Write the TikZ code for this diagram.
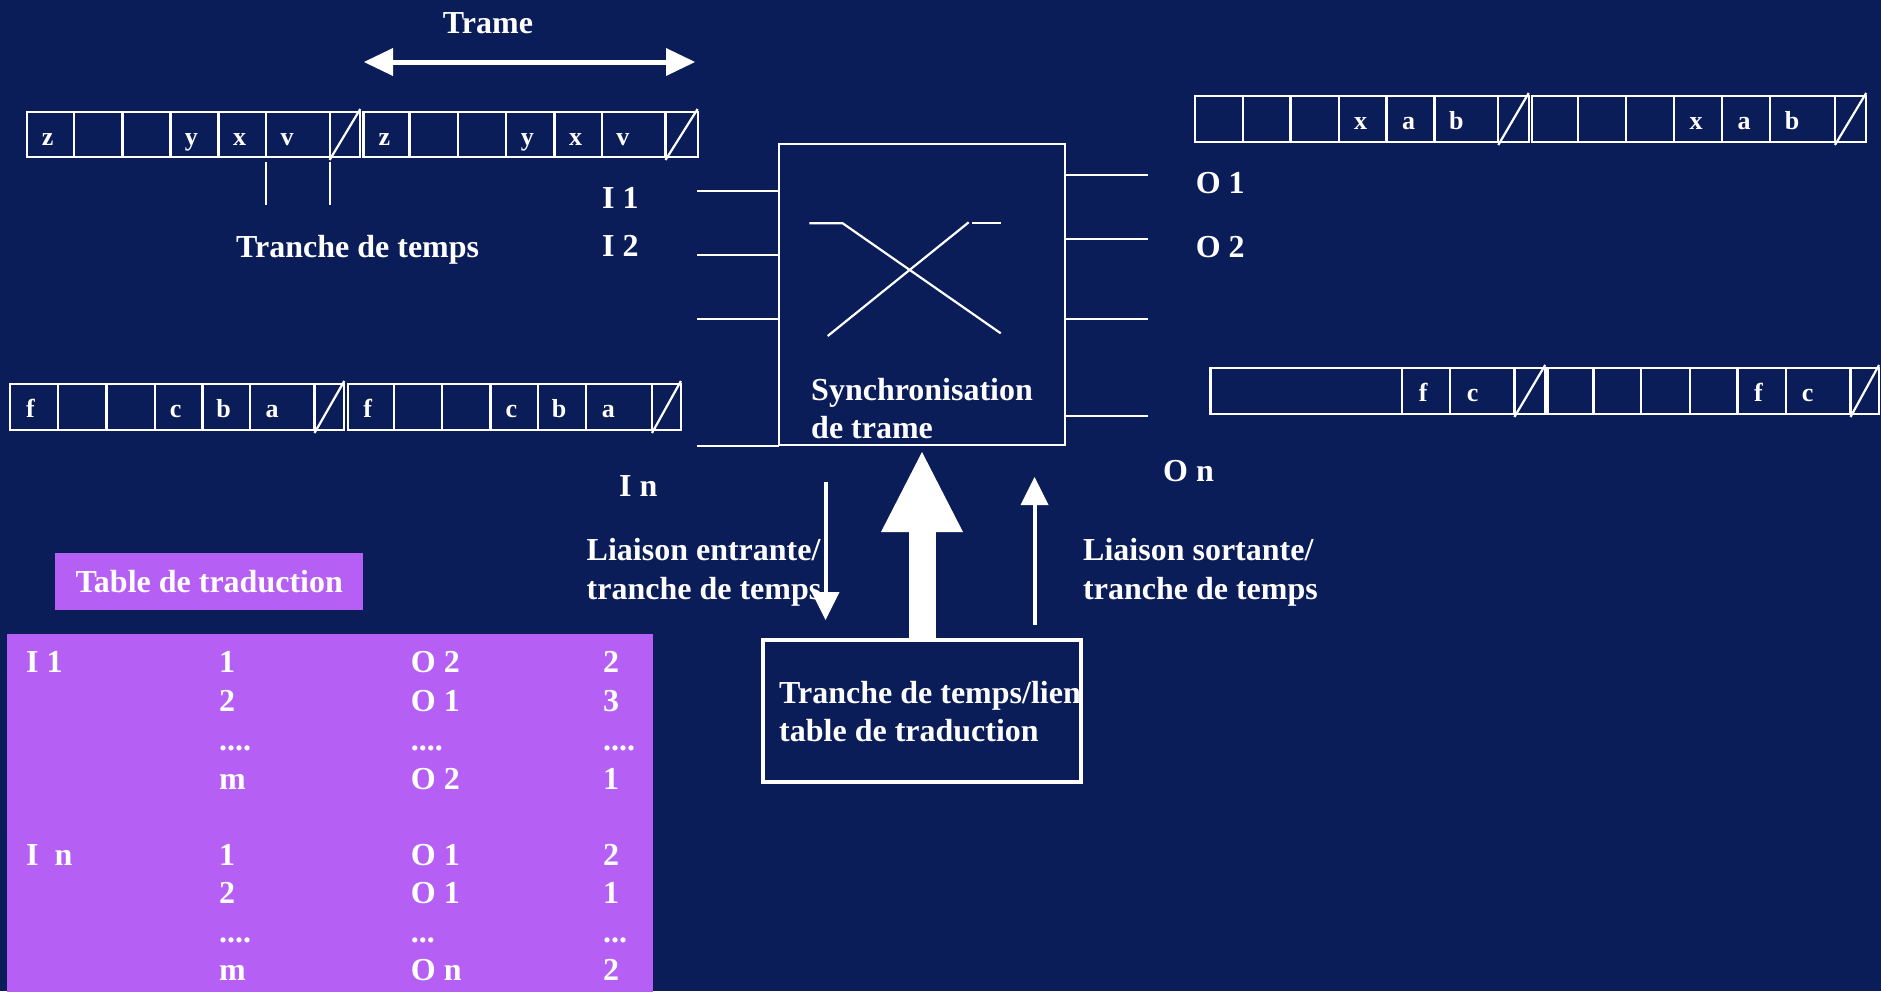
\documentclass[tikz,border=0pt]{standalone}
\usepackage{fontspec}
\setmainfont{Liberation Serif}
\usetikzlibrary{arrows.meta}
\definecolor{bgnavy}{RGB}{10,29,89}
\definecolor{tblpurple}{RGB}{182,95,245}
\newcommand{\drawframe}[6]{%
  \draw[wline] (#1,#5) rectangle (#4,#6);
  \foreach \xx in {#2,#3} \draw[wline] (\xx,#5) -- (\xx,#6);
  \draw[wline] (#3,#6+3) -- (#4,#5-3);
}
\begin{document}
\begin{tikzpicture}[x=1pt,y=-1pt,
  txt/.style={text=white, font=\fontsize{32}{38}\selectfont\bfseries, inner sep=0pt, anchor=base west},
  cell/.style={text=white, font=\fontsize{26}{30}\selectfont\bfseries, inner sep=0pt, anchor=base},
  wline/.style={draw=white, line width=2.2pt},
  thinarrow/.style={draw=white, line width=4pt, -{Triangle[length=28pt,width=28pt,line width=0pt]}},
]
\useasboundingbox (0,0) rectangle (1881,991);
\fill[bgnavy] (0,0) rectangle (1881,991);

% ---- Trame arrow
\node[txt, anchor=base] (trame) at (488,33) {Trame};
\coordinate (ta) at (364,62);
\coordinate (tb) at (695,62);
\draw[draw=white, line width=5pt, {Triangle[length=29pt,width=28pt,line width=0pt]}-{Triangle[length=29pt,width=28pt,line width=0pt]}] (ta) -- (tb);

% ---- top-left strip
\drawframe{26.6}{74.3,122.5,170.4,218.5,266.2}{329.6}{360.3}{112}{157}
\drawframe{363.5}{409.4,457.6,506.3,554.5,601.8}{665.5}{697.6}{112}{157}
\node[cell] (tlz1) at (47.6,145) {z};
\node[cell] (tly1) at (191.4,145) {y};
\node[cell] (tlx1) at (239.5,145) {x};
\node[cell] (tlv1) at (287.2,145) {v};
\node[cell] (tlz2) at (384.5,145) {z};
\node[cell] (tly2) at (527.3,145) {y};
\node[cell] (tlx2) at (575.5,145) {x};
\node[cell] (tlv2) at (622.8,145) {v};
\draw[wline] (266.2,162) -- (266.2,205);
\draw[wline] (329.6,162) -- (329.6,205);
\node[txt] (tdt) at (236,257) {Tranche de temps};

% ---- top-right strip
\drawframe{1194.8}{1242.6,1290.4,1338.7,1386.5,1434.4}{1498.3}{1528.7}{96}{142}
\drawframe{1531.8}{1577.9,1625.7,1674,1722.2,1770}{1834.9}{1866.2}{96}{142}
\node[cell] (trx1) at (1360.7,129.5) {x};
\node[cell] (tra1) at (1408.5,129.5) {a};
\node[cell] (trb1) at (1456.4,129.5) {b};
\node[cell] (trx2) at (1696,129.5) {x};
\node[cell] (tra2) at (1744.2,129.5) {a};
\node[cell] (trb2) at (1792,129.5) {b};

% ---- middle-left strip
\drawframe{10.1}{58.3,106.5,154.7,202.5,250.1}{314.5}{344.3}{384}{430}
\drawframe{347.6}{393.9,442.1,490.4,538.1,586.3}{652}{680.9}{384}{430}
\node[cell] (mlf1) at (30.5,417) {f};
\node[cell] (mlc1) at (175.7,417) {c};
\node[cell] (mlb1) at (223.5,417) {b};
\node[cell] (mla1) at (272.1,417) {a};
\node[cell] (mlf2) at (367.6,417) {f};
\node[cell] (mlc2) at (511.4,417) {c};
\node[cell] (mlb2) at (559.1,417) {b};
\node[cell] (mla2) at (608.3,417) {a};

% ---- middle-right strip
\drawframe{1210.4}{1402.2,1449.6}{1514.4}{1545.2}{368}{414}
\drawframe{1547.5}{1593.5,1641.3,1689.6,1737.5,1785.7}{1850.5}{1879}{368}{414}
\node[cell] (mrf1) at (1423.2,401.5) {f};
\node[cell] (mrc1) at (1472.6,401.5) {c};
\node[cell] (mrf2) at (1758.5,401.5) {f};
\node[cell] (mrc2) at (1807.7,401.5) {c};

% ---- main switch box
\node[draw=white, line width=2.2pt, minimum width=286pt, minimum height=301pt, inner sep=0pt, outer sep=0pt] (mainbox) at (922,294.5) {};
\draw[wline] (809.3,223.3) -- (842.7,223.3) -- (1000.7,333.3);
\draw[wline] (827.7,336) -- (968.7,222.3);
\draw[wline] (972,223.3) -- (1000.7,223.3);
\node[txt] (sync1) at (811,400) {Synchronisation};
\node[txt] (sync2) at (811,438.3) {de trame};

\coordinate (i1) at (697,191);
\coordinate (i2) at (697,255);
\coordinate (i3) at (697,319);
\coordinate (i4) at (697,446);
\foreach \c in {i1,i2,i3,i4} \draw[wline] (\c) -- (\c -| mainbox.west);
\coordinate (o1) at (1148,175);
\coordinate (o2) at (1148,239);
\coordinate (o3) at (1148,319);
\coordinate (o4) at (1148,416);
\foreach \c in {o1,o2,o3,o4} \draw[wline] (\c -| mainbox.east) -- (\c);

\node[txt] (lI1) at (602,208) {I 1};
\node[txt] (lI2) at (602,256) {I 2};
\node[txt] (lIn) at (619,496.7) {I n};
\node[txt] (lO1) at (1195.6,193.3) {O 1};
\node[txt] (lO2) at (1195.6,257) {O 2};
\node[txt] (lOn) at (1163,481) {O n};

% ---- arrows below the box
\coordinate (dA) at (825.5,482);
\coordinate (dB) at (825.5,620);
\draw[thinarrow] (dA) -- (dB);
\coordinate (uA) at (1034.5,625);
\coordinate (uB) at (1034.5,477);
\draw[thinarrow] (uA) -- (uB);

\node[draw=white, line width=4.5pt, minimum width=318pt, minimum height=142pt, inner sep=0pt, outer sep=0pt] (tbox) at (922,711) {};
\node[txt] (tb1) at (779,703.3) {Tranche de temps/lien};
\node[txt] (tb2) at (779,741.7) {table de traduction};
\draw[draw=white, line width=4.5pt] (tbox.north west) rectangle (tbox.south east);
\draw[draw=white, line width=27pt, -{Triangle[length=80pt,width=82pt,line width=0pt]}] (tbox.north) -- ([yshift=-7pt]mainbox.south);

\node[txt] (le1) at (586.5,560) {Liaison entrante/};
\node[txt] (le2) at (586.5,599.3) {tranche de temps};
\node[txt] (ls1) at (1083,560) {Liaison sortante/};
\node[txt] (ls2) at (1083,599.3) {tranche de temps};

% ---- translation table
\node[fill=tblpurple, minimum width=308pt, minimum height=57pt, inner sep=0pt, anchor=north west, text=white, font=\fontsize{32}{38}\selectfont\bfseries] (hdr) at (55,553) {Table de traduction};
\fill[tblpurple] (7,634) rectangle (653,995);

\node[txt] (r1a) at (26,672.7) {I 1};
\node[txt] (r1b) at (219,672.7) {1};
\node[txt] (r1c) at (410.7,672.7) {O 2};
\node[txt] (r1d) at (602.8,672.7) {2};
\node[txt] (r2b) at (219,711.7) {2};
\node[txt] (r2c) at (410.7,711.7) {O 1};
\node[txt] (r2d) at (602.8,711.7) {3};
\node[txt] (r3b) at (219,750) {....};
\node[txt] (r3c) at (410.7,750) {....};
\node[txt] (r3d) at (602.8,750) {....};
\node[txt] (r4b) at (219,789.3) {m};
\node[txt] (r4c) at (410.7,789.3) {O 2};
\node[txt] (r4d) at (602.8,789.3) {1};
\node[txt] (r5a) at (26,865) {I\ \ n};
\node[txt] (r5b) at (219,865) {1};
\node[txt] (r5c) at (410.7,865) {O 1};
\node[txt] (r5d) at (602.8,865) {2};
\node[txt] (r6b) at (219,903.3) {2};
\node[txt] (r6c) at (410.7,903.3) {O 1};
\node[txt] (r6d) at (602.8,903.3) {1};
\node[txt] (r7b) at (219,942) {....};
\node[txt] (r7c) at (410.7,942) {...};
\node[txt] (r7d) at (602.8,942) {...};
\node[txt] (r8b) at (219,980) {m};
\node[txt] (r8c) at (410.7,980) {O n};
\node[txt] (r8d) at (602.8,980) {2};
\end{tikzpicture}
\end{document}
